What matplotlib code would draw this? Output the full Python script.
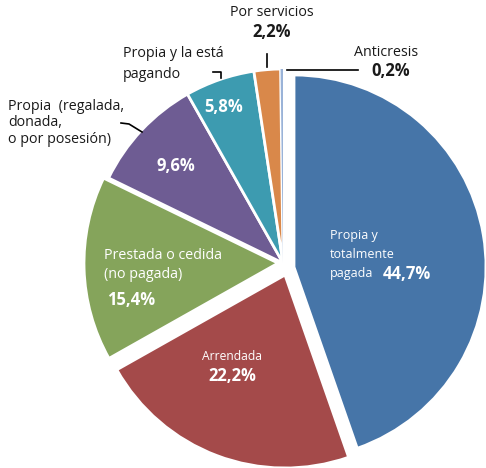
import matplotlib
matplotlib.use("Agg")
import matplotlib.pyplot as plt

# datos: tenencia de la vivienda (%)
categorias = ["Propia y totalmente pagada", "Arrendada", "Prestada o cedida (no pagada)",
              "Propia (regalada, donada, o por posesión)", "Propia y la está pagando",
              "Por servicios", "Anticresis"]
porcentajes = [44.7, 22.2, 15.4, 9.6, 5.8, 2.2, 0.2]
etiquetas = ["44,7%", "22,2%", "15,4%", "9,6%", "5,8%", "2,2%", "0,2%"]
colores = ["#4675A8", "#A44A4A", "#85A45B", "#6E5C93", "#3D9BB0", "#D9884A", "#9AB3D8"]
separacion = [11, 10, 5, 0, 0, 0, 0]   # en píxeles (unidades de datos)

W, H = 486, 468
plt.rcParams['font.family'] = ['Open Sans', 'DejaVu Sans']

fig = plt.figure(figsize=(W / 100, H / 100), dpi=100)
ax = fig.add_axes([0, 0, 1, 1])


def y(v):
    # coordenadas de la imagen (y hacia abajo)
    return H - v


wedges, _ = ax.pie(porcentajes, colors=colores, startangle=90, counterclock=False,
                   explode=separacion, center=(283, y(263)), radius=194,
                   wedgeprops=dict(edgecolor="white", linewidth=2))
# ajuste fino de las porciones separadas (como en el original)
wedges[0].set_center((294, y(267)))
wedges[0].set_radius(192)
wedges[1].set_center((285, y(275)))
wedges[1].set_radius(193)
wedges[6].set_linewidth(0)

ax.set_xlim(0, W)
ax.set_ylim(0, H)
ax.set_aspect("equal")
ax.axis("off")

oscuro = "#1a1a1a"
blanco = "white"

# textos dentro de las porciones
ax.text(330, y(245), "Propia y\ntotalmente", color=blanco, fontsize=9,
        ha="left", va="center", linespacing=1.6)
ax.text(330, y(274), "pagada", color=blanco, fontsize=9, ha="left", va="center")
ax.text(383, y(274), etiquetas[0], color=blanco, fontsize=12, fontweight="bold",
        ha="left", va="center")
ax.text(232, y(357), "Arrendada", color=blanco, fontsize=8.7, ha="center", va="center")
ax.text(232, y(376), etiquetas[1], color=blanco, fontsize=12, fontweight="bold",
        ha="center", va="center")
ax.text(104, y(265), "Prestada o cedida\n(no pagada)", color=blanco, fontsize=10.3,
        ha="left", va="center", linespacing=1.45)
ax.text(107, y(300), etiquetas[2], color=blanco, fontsize=12, fontweight="bold",
        ha="left", va="center")
ax.text(176, y(166), etiquetas[3], color=blanco, fontsize=12, fontweight="bold",
        ha="center", va="center")
ax.text(224, y(107), etiquetas[4], color=blanco, fontsize=12, fontweight="bold",
        ha="center", va="center")

# textos exteriores con líneas guía
ax.text(272, y(13), "Por servicios", color=oscuro, fontsize=10.3, ha="center", va="center")
ax.text(272, y(32), etiquetas[5], color=oscuro, fontsize=12, fontweight="bold",
        ha="center", va="center")
ax.plot([267, 267], [y(54), y(67)], color="black", lw=1.2)

ax.text(386, y(52), "Anticresis", color=oscuro, fontsize=10.3, ha="center", va="center")
ax.text(391, y(71), etiquetas[6], color=oscuro, fontsize=12, fontweight="bold",
        ha="center", va="center")
ax.plot([287, 358], [y(70), y(70)], color="black", lw=1.2)

ax.text(123, y(64), "Propia y la está\npagando", color=oscuro, fontsize=10.3,
        ha="left", va="center", linespacing=1.5)
ax.plot([213, 221, 221], [y(72), y(72), y(78)], color="black", lw=1.2)

ax.text(8, y(123), "Propia  (regalada,\ndonada,\no por posesión)", color=oscuro,
        fontsize=10.3, ha="left", va="center", linespacing=1.15)
ax.plot([121, 129, 142], [y(123), y(124), y(132)], color="black", lw=1.2)

fig.savefig("out.png", dpi=100)
